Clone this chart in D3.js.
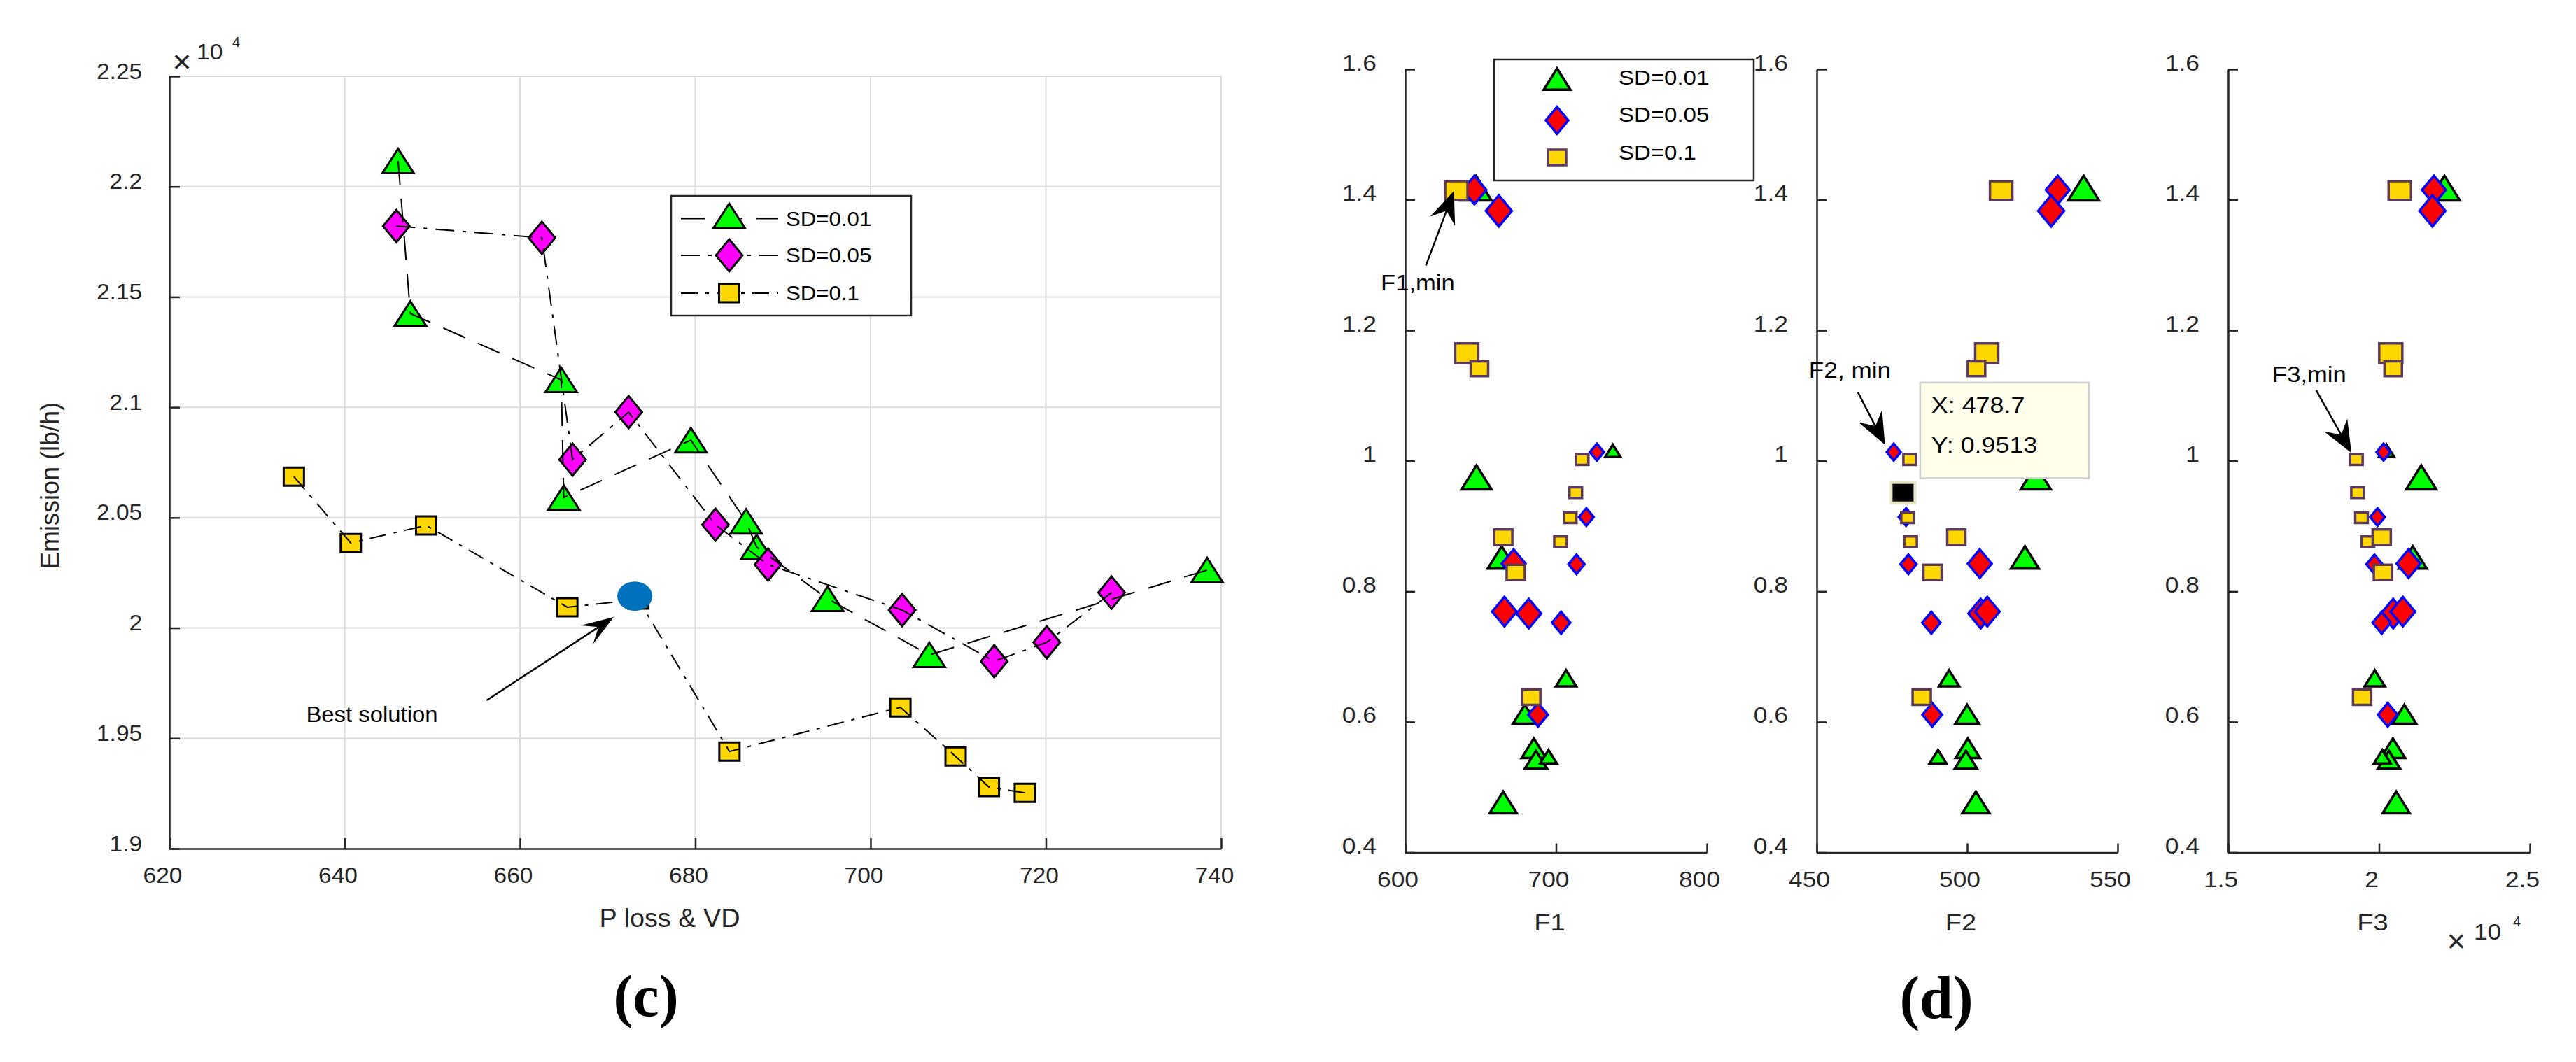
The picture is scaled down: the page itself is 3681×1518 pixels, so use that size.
<!DOCTYPE html>
<html>
<head>
<meta charset="utf-8">
<script src="https://cdn.jsdelivr.net/npm/d3@7"></script>
<style>
  body { margin: 0; background: #fff; }
</style>
</head>
<body>
<div id="chart"></div>
<script>
// ---------- panel (c): P loss & VD vs Emission (lb/h) ----------
const c01X = [646.1, 647.5, 664.7, 665.0, 679.5, 685.8, 687.0, 695.1, 706.7, 738.4];
const c01Y = [22116, 21425, 21124, 20591, 20851, 20483, 20366, 20132, 19878, 20262];
const c05X = [645.9, 662.5, 666.0, 672.4, 682.3, 688.3, 703.6, 714.1, 720.1, 727.5];
const c05Y = [21821, 21768, 20763, 20978, 20468, 20287, 20081, 19849, 19935, 20160];
const c1X = [634.2, 640.7, 649.3, 665.4, 673.5, 683.9, 703.4, 709.7, 713.5, 717.6];
const c1Y = [20686, 20385, 20465, 20094, 20129, 19440, 19640, 19418, 19279, 19253];
const bestX = 673.1, bestY = 20144;
const cXTicks = [620, 640, 660, 680, 700, 720, 740];
const cYTicks = [19000, 19500, 20000, 20500, 21000, 21500, 22000, 22500];
const legendNames = ["SD=0.01", "SD=0.05", "SD=0.1"];

// ---------- panel (d): F1 / F2 / F3 against the 4th objective ----------
const dY01 = [1.418, 1.0154, 0.9747, 0.852, 0.667, 0.6118, 0.5597, 0.542, 0.5468, 0.4767];
const dF1_01 = [647.0, 737.7, 647.3, 664.0, 706.7, 679.3, 685.3, 686.7, 695.0, 665.0];
const dF2_01 = [538.7, 512.0, 522.8, 519.2, 494.0, 500.0, 500.2, 499.6, 490.3, 502.9];
const dF3_01 = [22170, 20250, 21400, 21120, 19860, 20840, 20460, 20330, 20110, 20570];
const dSize01 = [44, 22, 43, 40, 29, 34, 35, 32, 24, 39];

const dY05 = [1.415, 1.383, 1.0135, 0.914, 0.8415, 0.8425, 0.766, 0.769, 0.752, 0.611];
const dF1_05 = [645.9, 662.1, 727.1, 720.1, 713.6, 671.9, 682.0, 665.8, 703.4, 688.1];
const dF2_05 = [530.1, 527.9, 475.6, 479.7, 480.5, 504.2, 504.5, 506.7, 488.1, 488.4];
const dF3_05 = [21820, 21770, 20150, 19950, 19850, 20980, 20470, 20790, 20090, 20290];
const dSize05 = [34, 37, 20, 21, 23, 34, 35, 35, 26, 28];

const dY1 = [1.414, 1.165, 1.141, 1.002, 0.9513, 0.913, 0.876, 0.883, 0.829, 0.638];
const dF1_1 = [633.9, 640.8, 649.2, 717.3, 713.1, 709.4, 703.0, 665.0, 673.3, 683.6];
const dF2_1 = [511.3, 506.5, 503.1, 480.9, 478.7, 480.2, 481.2, 496.4, 488.5, 484.9];
const dF3_1 = [20690, 20390, 20470, 19250, 19290, 19420, 19630, 20090, 20130, 19440];
const dSize1 = [32, 33, 25, 18, 18, 18, 18, 26, 26, 26];
const tipIndex = 4; // data tip on SD=0.1 in F2

const dYTicks = [0.4, 0.6, 0.8, 1, 1.2, 1.4, 1.6];
const dF1Ticks = [600, 700, 800];
const dF2Ticks = [450, 500, 550];
const dF3Ticks = [15000, 20000, 25000];

const W = 3681, H = 1518;
const AX = "#262626";
const FONT = '"Liberation Sans", Arial, sans-serif';

const svg = d3.select("#chart").append("svg")
    .attr("width", W).attr("height", H)
    .style("background", "#fff")
    .style("font-family", FONT);

function shape(type, w, h) {
    const a = w / 2, b = h / 2;
    if (type === "tri") return `M0,${-b}L${a},${b}L${-a},${b}Z`;
    if (type === "dia") return `M0,${-b}L${a},0L0,${b}L${-a},0Z`;
    return `M${-a},${-b}H${a}V${b}H${-a}Z`;
}

function txt(g, x, y, s, o = {}) {
    return g.append("text")
        .attr("transform", `translate(${x},${y})` + (o.rot ? ` rotate(${o.rot})` : "") + ` scale(${o.sx || 1},1)`)
        .attr("text-anchor", o.anchor || "start")
        .attr("fill", o.fill || AX)
        .attr("font-weight", o.weight || null)
        .style("font-size", (o.size || 31) + "px")
        .style("font-family", o.font || FONT)
        .text(s);
}

function arrow(g, x1, y1, x2, y2, len, half, notch) {
    const dx = x2 - x1, dy = y2 - y1, L = Math.hypot(dx, dy);
    const ux = dx / L, uy = dy / L, px = -uy, py = ux;
    g.append("line")
        .attr("x1", x1).attr("y1", y1)
        .attr("x2", x2 - ux * notch).attr("y2", y2 - uy * notch)
        .attr("stroke", "#000").attr("stroke-width", 2.5);
    const bx = x2 - ux * len, by = y2 - uy * len;
    g.append("path")
        .attr("d", `M${x2},${y2}L${bx + px * half},${by + py * half}L${x2 - ux * notch},${y2 - uy * notch}L${bx - px * half},${by - py * half}Z`)
        .attr("fill", "#000");
}

function styleAxis(g, sx, opts) {
    g.attr("font-family", null).attr("font-size", null);
    g.select(".domain").attr("stroke", AX).attr("stroke-width", 2.5);
    g.selectAll(".tick line").attr("stroke", AX).attr("stroke-width", 2.5);
    g.selectAll(".tick text")
        .attr("fill", AX)
        .style("font-size", "31px")
        .style("font-family", FONT)
        .attr("dy", opts.dy)
        .attr("transform", `translate(${opts.tx || 0},0) scale(${sx},1)`);
}

// ======================= panel (c) =======================
const cx = d3.scaleLinear().domain([620, 740]).range([242, 1745]);
const cy = d3.scaleLinear().domain([19000, 22500]).range([1213, 109]);
const gc = svg.append("g");

// grid
gc.append("g").selectAll("line").data(cXTicks.slice(1)).join("line")
    .attr("x1", d => cx(d)).attr("x2", d => cx(d))
    .attr("y1", cy(19000)).attr("y2", cy(22500))
    .attr("stroke", "#dcdcdc").attr("stroke-width", 2);
gc.append("g").selectAll("line").data(cYTicks.slice(1)).join("line")
    .attr("x1", cx(620)).attr("x2", cx(740))
    .attr("y1", d => cy(d)).attr("y2", d => cy(d))
    .attr("stroke", "#dcdcdc").attr("stroke-width", 2);

// axes
gc.append("g").attr("transform", `translate(0,${cy(19000)})`)
    .call(d3.axisBottom(cx).tickValues(cXTicks).tickSizeInner(-15).tickSizeOuter(0).tickPadding(49))
    .call(g => styleAxis(g, 1.08, { dy: 0, tx: -10 }));
gc.append("g").attr("transform", `translate(${cx(620)},0)`)
    .call(d3.axisLeft(cy).tickValues(cYTicks).tickSizeInner(-15).tickSizeOuter(0).tickPadding(36)
        .tickFormat(d => String(+(d / 1e4).toFixed(2))))
    .call(g => styleAxis(g, 1.08, { dy: 3 }));

// exponent label
txt(gc, 260, 104, "\u00d7", { size: 46, anchor: "middle" });
txt(gc, 281, 85, "10", { size: 32, sx: 1.05 });
txt(gc, 332, 67, "4", { size: 20 });

// axis titles
txt(gc, 84, 694, "Emission (lb/h)", { rot: -90, anchor: "middle", size: 36 });
txt(gc, 957, 1325, "P loss & VD", { anchor: "middle", size: 36, sx: 1.05 });

const cSeries = [
    { xs: c01X, ys: c01Y, type: "tri", w: 45, h: 35, fill: "#00ff00", dash: "34,20" },
    { xs: c05X, ys: c05Y, type: "dia", w: 38, h: 46, fill: "#ff00ff", dash: "27,12,5,12" },
    { xs: c1X, ys: c1Y, type: "sq", w: 29, h: 26, fill: "#ffd700", dash: "24,11,5,11" }
];

// markers first
cSeries.forEach(s => {
    const pts = s.xs.map((x, i) => ({ x, y: s.ys[i] }));
    gc.append("g").selectAll("path").data(pts).join("path")
        .attr("d", shape(s.type, s.w, s.h))
        .attr("transform", d => `translate(${cx(d.x)},${cy(d.y)})`)
        .attr("fill", s.fill).attr("stroke", "#000").attr("stroke-width", 3);
});
// connecting lines on top
const cLine = d3.line().x(d => cx(d.x)).y(d => cy(d.y));
cSeries.forEach(s => {
    const pts = s.xs.map((x, i) => ({ x, y: s.ys[i] }));
    gc.append("path").datum(pts).attr("d", cLine)
        .attr("fill", "none").attr("stroke", "#000").attr("stroke-width", 2)
        .attr("stroke-dasharray", s.dash);
});

// best solution
gc.append("ellipse").attr("cx", cx(bestX)).attr("cy", cy(bestY))
    .attr("rx", 25).attr("ry", 21).attr("fill", "#0072bd");
arrow(gc, cx(656.2), cy(19672), cx(670.7), cy(20049), 46, 16, 26);
txt(gc, cx(635.6), cy(19573), "Best solution", { size: 31, sx: 1.06, fill: "#000" });

// legend (c)
const lg = gc.append("g");
lg.append("rect").attr("x", 959).attr("y", 280).attr("width", 343).attr("height", 171)
    .attr("fill", "#fff").attr("stroke", AX).attr("stroke-width", 2.5);
const legY = [312.5, 365, 419];
cSeries.forEach((s, i) => {
    lg.append("line").attr("x1", 973).attr("x2", 1112).attr("y1", legY[i]).attr("y2", legY[i])
        .attr("stroke", "#000").attr("stroke-width", 2).attr("stroke-dasharray", s.dash);
    lg.append("path").attr("d", shape(s.type, s.w, s.h))
        .attr("transform", `translate(1042,${legY[i] - (s.type === "tri" ? 4 : 0)})`)
        .attr("fill", s.fill).attr("stroke", "#000").attr("stroke-width", 3);
    txt(lg, 1123, legY[i] + 4 + 6, legendNames[i], { size: 30, sx: 1.04, fill: "#000" });
});

txt(gc, 923, 1452, "(c)", { size: 84, anchor: "middle", weight: "bold", font: '"Liberation Serif", serif', fill: "#000" });

// ======================= panel (d) =======================
const dy = d3.scaleLinear().domain([0.4, 1.6]).range([1218.5, 99]);
const dSeries = [
    { ys: dY01, f1: dF1_01, f2: dF2_01, f3: dF3_01, sz: dSize01, type: "tri", hr: 0.8, fill: "#00ff00", stroke: "#000" },
    { ys: dY05, f1: dF1_05, f2: dF2_05, f3: dF3_05, sz: dSize05, type: "dia", hr: 1.2, fill: "#ff0000", stroke: "#0000ff" },
    { ys: dY1, f1: dF1_1, f2: dF2_1, f3: dF3_1, sz: dSize1, type: "sq", hr: 0.85, fill: "#ffd700", stroke: "#5c3a5c" }
];
const panels = [
    { key: "f1", range: [2008, 2439], dom: [600, 800], ticks: dF1Ticks, label: "F1", fmt: d => d },
    { key: "f2", range: [2596, 3026], dom: [450, 550], ticks: dF2Ticks, label: "F2", fmt: d => d },
    { key: "f3", range: [3184, 3615], dom: [15000, 25000], ticks: dF3Ticks, label: "F3", fmt: d => d / 1e4 }
];
const gd = svg.append("g");

panels.forEach(p => {
    p.x = d3.scaleLinear().domain(p.dom).range(p.range);
    const g = gd.append("g");
    p.g = g;
    g.append("g").attr("transform", `translate(0,${dy(0.4)})`)
        .call(d3.axisBottom(p.x).tickValues(p.ticks).tickSizeInner(-13).tickSizeOuter(0).tickPadding(50).tickFormat(p.fmt))
        .call(a => styleAxis(a, 1.14, { dy: 0, tx: -11 }));
    g.append("g").attr("transform", `translate(${p.range[0]},0)`)
        .call(d3.axisLeft(dy).tickValues(dYTicks).tickSizeInner(-14).tickSizeOuter(0).tickPadding(36).tickFormat(d => d))
        .call(a => styleAxis(a, 1.14, { dy: 1 }));
    txt(g, (p.range[0] + p.range[1]) / 2 - 9, 1330, p.label, { anchor: "middle", size: 34, sx: 1.12 });

    dSeries.forEach(s => {
        const pts = s.ys.map((y, i) => ({ y, v: s[p.key][i], w: s.sz[i] }));
        g.append("g").selectAll("path").data(pts).join("path")
            .attr("d", d => shape(s.type, d.w, d.w * s.hr))
            .attr("transform", d => `translate(${p.x(d.v)},${dy(d.y)})`)
            .attr("fill", s.fill).attr("stroke", s.stroke).attr("stroke-width", 3.5);
    });
});

// exponent on F3
const p3 = panels[2];
txt(p3.g, 3510, 1361, "\u00d7", { size: 46, anchor: "middle" });
txt(p3.g, 3535, 1343, "10", { size: 32, sx: 1.1 });
txt(p3.g, 3591, 1324, "4", { size: 20 });

// min annotations
const [p1, p2] = panels;
arrow(p1.g, p1.x(613.7), dy(1.2992), p1.x(632.3), dy(1.4134), 46, 19, 30);
txt(p1.g, p1.x(583.8), dy(1.2611), "F1,min", { size: 32, sx: 1.08, fill: "#000" });
arrow(p2.g, p2.x(463.7), dy(1.1049), p2.x(472.7), dy(1.0247), 46, 19, 30);
txt(p2.g, p2.x(447.4), dy(1.127), "F2, min", { size: 32, sx: 1.1, fill: "#000" });
arrow(p3.g, p3.x(17917), dy(1.1082), p3.x(19087), dy(1.012), 46, 19, 30);
txt(p3.g, p3.x(16463), dy(1.121), "F3,min", { size: 32, sx: 1.08, fill: "#000" });

// data tip in F2
const tipX = dF2_1[tipIndex], tipY = dY1[tipIndex];
p2.g.append("rect")
    .attr("x", p2.x(tipX) - 17).attr("y", dy(tipY) - 14.5).attr("width", 34).attr("height", 29)
    .attr("fill", "#000").attr("stroke", "#e6e6c4").attr("stroke-width", 4);
p2.g.append("rect")
    .attr("x", p2.x(484.4)).attr("y", dy(1.1199))
    .attr("width", p2.x(540.5) - p2.x(484.4)).attr("height", dy(0.9734) - dy(1.1199))
    .attr("fill", "#ffffec").attr("stroke", "#cfcfcf").attr("stroke-width", 2.5);
txt(p2.g, p2.x(488.1), dy(1.0735), "X: " + tipX, { size: 32, sx: 1.12, fill: "#000" });
txt(p2.g, p2.x(488.1), dy(1.0123), "Y: " + tipY, { size: 32, sx: 1.12, fill: "#000" });

// legend (d)
const ld = gd.append("g");
ld.append("rect").attr("x", 2135).attr("y", 85).attr("width", 371).attr("height", 173)
    .attr("fill", "#fff").attr("stroke", AX).attr("stroke-width", 2.5);
const dLegY = [113, 172, 225];
const dLegW = [38, 32, 26];
dSeries.forEach((s, i) => {
    ld.append("path").attr("d", shape(s.type, dLegW[i], dLegW[i] * s.hr))
        .attr("transform", `translate(2225,${dLegY[i]})`)
        .attr("fill", s.fill).attr("stroke", s.stroke).attr("stroke-width", 3.5);
    txt(ld, 2313, [121, 174, 228][i], legendNames[i], { size: 30, sx: 1.1, fill: "#000" });
});

txt(gd, 2767, 1455, "(d)", { size: 86, anchor: "middle", weight: "bold", font: '"Liberation Serif", serif', fill: "#000" });
</script>
</body>
</html>
